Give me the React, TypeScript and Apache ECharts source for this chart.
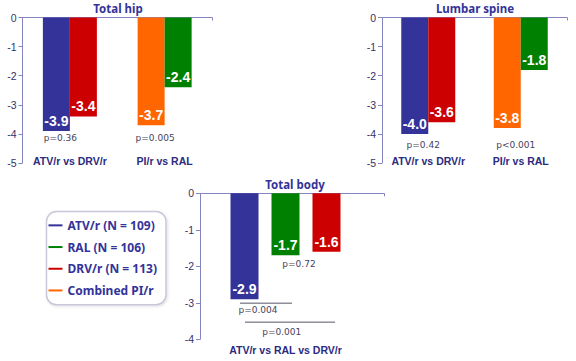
import React, { useEffect, useRef } from 'react';
import * as echarts from 'echarts';

// ---------- data ----------
const topCategories = ['ATV/r vs DRV/r', 'PI/r vs RAL'];
// first bar of each pair: ATV/r, Combined PI/r ; second bar: DRV/r, RAL
const hipFirstBar = [-3.9, -3.7];
const hipSecondBar = [-3.4, -2.4];
const hipPValues = ['p=0.36', 'p=0.005'];

const spineFirstBar = [-4.0, -3.8];
const spineSecondBar = [-3.6, -1.8];
const spinePValues = ['p=0.42', 'p<0.001'];

const bodyCategories = ['ATV/r vs RAL vs DRV/r'];
const bodyATV = [-2.9];
const bodyRAL = [-1.7];
const bodyDRV = [-1.6];
const bodyPValues = ['p=0.72', 'p=0.004', 'p=0.001'];

const legendNames = ['ATV/r (N = 109)', 'RAL (N = 106)', 'DRV/r (N = 113)', 'Combined PI/r'];

// ---------- styles ----------
const BLUE = '#333399';
const GREEN = '#008000';
const RED = '#CC0000';
const ORANGE = '#FF6600';
const legendColors = [BLUE, GREEN, RED, ORANGE];
const firstBarColors = [BLUE, ORANGE];
const secondBarColors = [RED, GREEN];
const AXIS = '#8585c2';
const NAVY_TEXT = '#2b2b80';
const P_TEXT = '#44445e';

const titleStyle = { fontFamily: 'Noto Sans', fontWeight: 'bold', fontSize: 11.5, color: BLUE };
const catLabel = { fontFamily: 'Liberation Sans', fontWeight: 'bold', fontSize: 10.5, color: NAVY_TEXT, interval: 0 };
const yLabel = { fontFamily: 'Liberation Sans', fontSize: 10.5, color: '#333366', margin: 6 };
const pFont = '9px "DejaVu Sans"';

const barLabel = {
  show: true,
  position: 'insideBottom',
  distance: 3,
  color: '#ffffff',
  fontWeight: 'bold',
  fontSize: 14,
  fontFamily: 'Liberation Sans',
  formatter: (p: any) => Number(p.value).toFixed(1),
};

function topXAxes(gridIndex: number) {
  return [
    {
      gridIndex,
      type: 'category',
      data: topCategories,
      position: 'top',
      axisLine: { show: true, lineStyle: { color: AXIS, width: 1 } },
      axisTick: { show: true, inside: true, length: 3, lineStyle: { color: AXIS } },
      axisLabel: { show: false },
    },
    {
      gridIndex,
      type: 'category',
      data: topCategories,
      position: 'bottom',
      axisLine: { show: false, onZero: false },
      axisTick: { show: false },
      axisLabel: { ...catLabel, margin: -2, verticalAlign: 'middle' },
    },
  ];
}

function valueYAxis(gridIndex: number, min: number, show = true) {
  return {
    gridIndex,
    type: 'value',
    min,
    max: 0,
    interval: 1,
    show,
    axisLine: { show: true, lineStyle: { color: AXIS, width: 1 } },
    axisTick: { show: true, length: 4, lineStyle: { color: AXIS } },
    splitLine: { show: false },
    axisLabel: yLabel,
  };
}

function pairSeries(xAxisIndex: number, yAxisIndex: number, values: number[], colors: string[]) {
  return {
    type: 'bar',
    xAxisIndex,
    yAxisIndex,
    barWidth: 27,
    barGap: '0%',
    data: values.map((v, i) => ({ value: v, itemStyle: { color: colors[i] } })),
    label: barLabel,
  };
}

function pLabelSeries(xAxisIndex: number, yAxisIndex: number, texts: string[], level: number, dx: number) {
  return {
    type: 'custom',
    xAxisIndex,
    yAxisIndex,
    silent: true,
    clip: false,
    data: texts.map((_, i) => [i, level]),
    renderItem: (params: any, api: any) => {
      const pt = api.coord([api.value(0), api.value(1)]);
      return {
        type: 'text',
        x: pt[0] + dx,
        y: pt[1],
        style: { text: texts[params.dataIndex], fill: P_TEXT, font: pFont, align: 'center', verticalAlign: 'middle' },
      };
    },
  };
}

export default function App() {
  const ref = useRef<HTMLDivElement>(null);
  useEffect(() => {
    if (!ref.current) return;
    const chart = echarts.init(ref.current, undefined, { renderer: 'svg' });
    const barStep = 41; // bar width + gap in body chart
    const option: any = {
      animation: false,
      backgroundColor: '#ffffff',
      title: [
        { text: 'Total hip', left: 118, top: 2, textAlign: 'center', padding: 0, textStyle: titleStyle },
        { text: 'Lumbar spine', left: 475, top: 2, textAlign: 'center', padding: 0, textStyle: titleStyle },
        { text: 'Total body', left: 295, top: 178, textAlign: 'center', padding: 0, textStyle: titleStyle },
      ],
      legend: {
        orient: 'vertical',
        left: 46.5,
        top: 211.5,
        padding: [3, 9, 3.5, 2],
        itemGap: 0,
        itemWidth: 14,
        itemHeight: 2,
        icon: 'rect',
        selectedMode: false,
        borderColor: '#c8c8da',
        borderWidth: 1.5,
        borderRadius: 10,
        backgroundColor: '#ffffff',
        shadowBlur: 3,
        shadowColor: 'rgba(0,0,0,0.12)',
        shadowOffsetX: 1,
        shadowOffsetY: 1,
        textStyle: { fontFamily: 'Noto Sans', fontWeight: 'bold', fontSize: 12, color: BLUE, lineHeight: 21.7 },
        data: legendNames,
      },
      grid: [
        { left: 22.5, top: 17.5, width: 189.5, height: 145.5 },
        { left: 382, top: 17.5, width: 185, height: 145.5 },
        { left: 200, top: 193.3, width: 171, height: 146 },
        { left: 200, top: 193.3, width: 184, height: 146 },
      ],
      xAxis: [
        ...topXAxes(0),
        ...topXAxes(1),
        {
          gridIndex: 2,
          type: 'category',
          data: bodyCategories,
          position: 'bottom',
          axisLine: { show: false, onZero: false },
          axisTick: { show: false },
          axisLabel: { ...catLabel, margin: 10.7, verticalAlign: 'middle' },
        },
        {
          gridIndex: 3,
          type: 'category',
          data: bodyCategories,
          position: 'top',
          axisLine: { show: true, lineStyle: { color: AXIS, width: 1 } },
          axisTick: { show: true, inside: true, length: 3, lineStyle: { color: AXIS } },
          axisLabel: { show: false },
        },
      ],
      yAxis: [
        valueYAxis(0, -5),
        valueYAxis(1, -5),
        valueYAxis(2, -4),
        valueYAxis(3, -4, false),
      ],
      series: [
        pairSeries(0, 0, hipFirstBar, firstBarColors),
        pairSeries(0, 0, hipSecondBar, secondBarColors),
        pLabelSeries(0, 0, hipPValues, -4.14, -9.5),
        pairSeries(2, 1, spineFirstBar, firstBarColors),
        pairSeries(2, 1, spineSecondBar, secondBarColors),
        pLabelSeries(2, 1, spinePValues, -4.38, -5),
        ...[
          { name: 'ATV/r', data: bodyATV, color: BLUE },
          { name: 'RAL', data: bodyRAL, color: GREEN },
          { name: 'DRV/r', data: bodyDRV, color: RED },
        ].map((s) => ({
          type: 'bar',
          xAxisIndex: 4,
          yAxisIndex: 2,
          barWidth: 28,
          barGap: '46.4%',
          data: s.data,
          itemStyle: { color: s.color },
          label: barLabel,
        })),
        {
          type: 'custom',
          xAxisIndex: 4,
          yAxisIndex: 2,
          silent: true,
          clip: false,
          data: [[0, 0]],
          renderItem: (_params: any, api: any) => {
            const cx = api.coord([0, 0])[0];
            const y = (v: number) => api.coord([0, v])[1];
            const line = (x1: number, x2: number, v: number) => ({
              type: 'line',
              shape: { x1, y1: y(v), x2, y2: y(v) },
              style: { stroke: '#555566', lineWidth: 1 },
            });
            const text = (t: string, x: number, v: number) => ({
              type: 'text',
              x,
              y: y(v),
              style: { text: t, fill: P_TEXT, font: pFont, align: 'center', verticalAlign: 'middle' },
            });
            return {
              type: 'group',
              children: [
                text(bodyPValues[0], cx + 13.5, -1.94),
                line(cx - barStep - 4.5, cx + 6.5, -3.01),
                text(bodyPValues[1], cx - 27.5, -3.2),
                line(cx - barStep + 0.5, cx + barStep + 8.5, -3.53),
                text(bodyPValues[2], cx - 3.8, -3.79),
              ],
            };
          },
        },
        ...legendNames.map((name, i) => ({
          type: 'line',
          name,
          xAxisIndex: 5,
          yAxisIndex: 3,
          data: [],
          color: legendColors[i],
          itemStyle: { color: legendColors[i] },
          lineStyle: { color: legendColors[i] },
        })),
      ],
    };
    chart.setOption(option);
    return () => chart.dispose();
  }, []);
  return <div ref={ref} style={{ position: 'fixed', left: 0, top: 0, width: 576, height: 361 }} />;
}
